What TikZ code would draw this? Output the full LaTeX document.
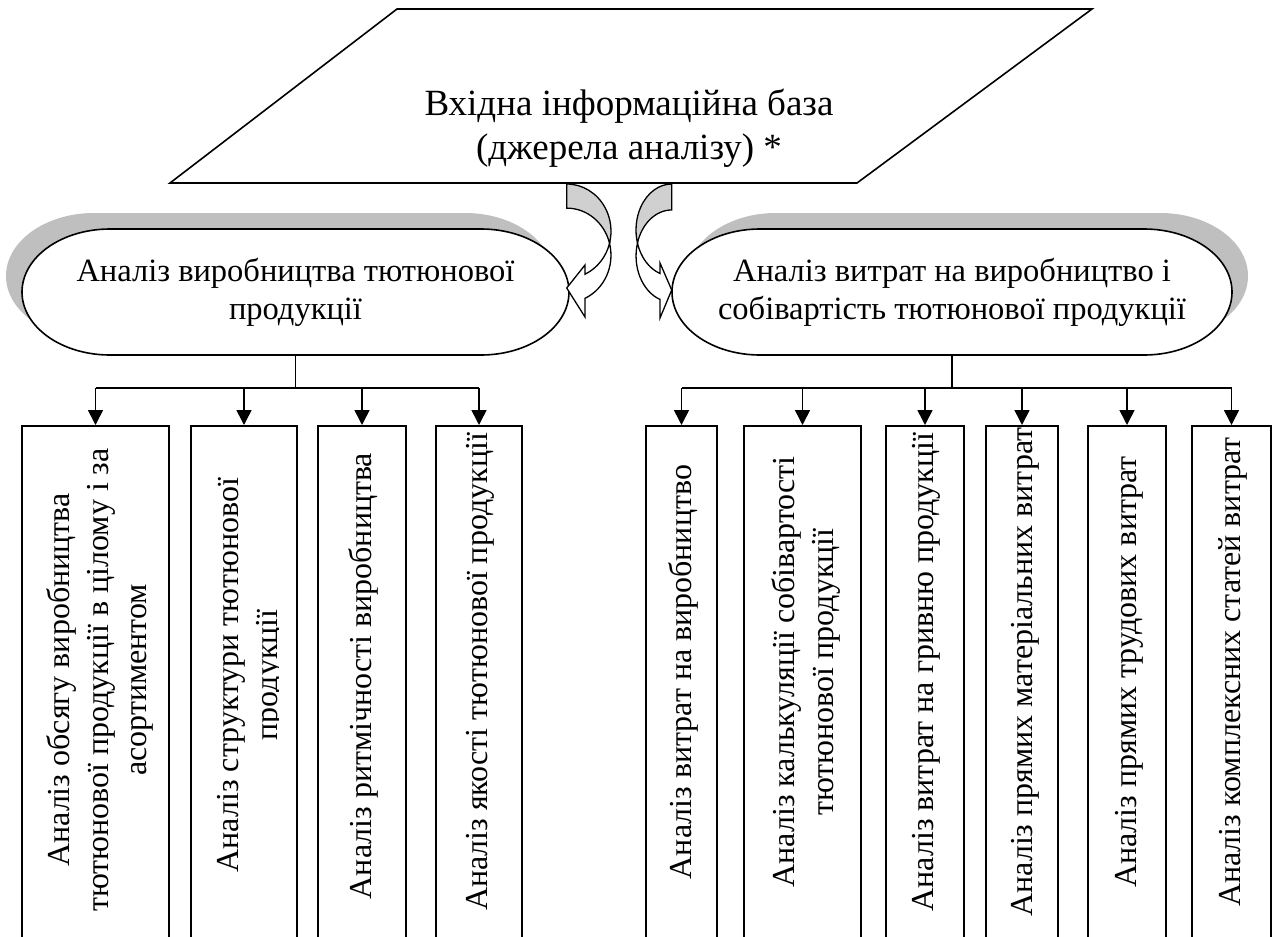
\documentclass[tikz,border=0pt]{standalone}
\usepackage{fontspec}
\setmainfont{Liberation Serif}
\newfontfamily\tnr{Liberation Serif}
\usetikzlibrary{arrows.meta}
\definecolor{shadowgrey}{RGB}{191,191,191}
\definecolor{backgrey}{RGB}{208,208,208}

\begin{document}
\begin{tikzpicture}[x=1pt,y=-1pt,line join=miter,
  outline/.style={draw=black,line width=1.6pt},
  thinline/.style={draw=black,line width=1.3pt},
  feed/.style={line width=1.6pt,-{Triangle[length=15pt,width=15pt]}},
  bus/.style={line width=1.6pt},
  boxshape/.style={draw,line width=1.6pt,fill=white,minimum height=540pt,anchor=north,inner sep=0pt},
  vtext/.style={rotate=90,align=center,inner sep=0pt,font=\tnr\fontsize{32}{38.5}\selectfont},
  ovaltext/.style={align=center,inner sep=0pt,minimum width=547pt,minimum height=126pt,font=\tnr\fontsize{32.5}{38}\selectfont},
  toptext/.style={align=center,inner sep=0pt,font=\tnr\fontsize{37}{44}\selectfont}]

\clip (0,0) rectangle (1277,937);

% ---------- source block (parallelogram) ----------
\path[outline,fill=white] (170,183) -- (397,9) -- (1092,9) -- (857,183) -- cycle;
\node[toptext] (src) at (629,128) {Вхідна інформаційна база\\(джерела аналізу) *};

% ---------- left terminator with shadow ----------
\path[fill=shadowgrey,shift={(-16,-16)}]
  (110,229) -- (481,229) arc[start angle=-90,end angle=90,x radius=88,y radius=63]
  -- (110,355) arc[start angle=90,end angle=270,x radius=88,y radius=63] -- cycle;
\path[outline,fill=white]
  (110,229) -- (481,229) arc[start angle=-90,end angle=90,x radius=88,y radius=63]
  -- (110,355) arc[start angle=90,end angle=270,x radius=88,y radius=63] -- cycle;
\node[ovaltext] (ovL) at (295.5,292) {Аналіз виробництва тютюнової\\продукції};

% ---------- right terminator with shadow ----------
\path[fill=shadowgrey,shift={(16,-16)}]
  (760,229) -- (1144,229) arc[start angle=-90,end angle=90,x radius=88,y radius=63]
  -- (760,355) arc[start angle=90,end angle=270,x radius=88,y radius=63] -- cycle;
\path[outline,fill=white]
  (760,229) -- (1144,229) arc[start angle=-90,end angle=90,x radius=88,y radius=63]
  -- (760,355) arc[start angle=90,end angle=270,x radius=88,y radius=63] -- cycle;
\node[ovaltext,minimum width=560pt] (ovR) at (952,292) {Аналіз витрат на виробництво і\\собівартість тютюнової продукції};

% ---------- curved arrow to the left block ----------
\path[thinline,fill=backgrey]
  (566.7,184) arc[start angle=-90,end angle=14.8,x radius=44.3,y radius=47.2]
  arc[start angle=-14.8,end angle=-90,x radius=44.3,y radius=47.2] -- cycle;
\path[thinline,fill=white]
  (609.5,243.3) arc[start angle=-14.8,end angle=65.6,x radius=44.3,y radius=47.2]
  -- (585,317) -- (566.7,288) -- (585,265) -- (585,274.2)
  arc[start angle=65.6,end angle=14.8,x radius=44.3,y radius=47.2] -- cycle;

% ---------- curved arrow to the right block ----------
\path[thinline,fill=backgrey]
  (671.7,184) arc[start angle=270,end angle=163.6,x radius=35.7,y radius=46]
  arc[start angle=196.4,end angle=270,x radius=35.7,y radius=46] -- cycle;
\path[thinline,fill=white]
  (637.5,243) arc[start angle=196.4,end angle=109.1,x radius=35.7,y radius=46]
  -- (660,318) -- (671.7,290) -- (660,263) -- (660,273.5)
  arc[start angle=109.1,end angle=163.6,x radius=35.7,y radius=46] -- cycle;

% ---------- lower boxes ----------
\node[boxshape,minimum width=147pt] (b1) at (95.5,425) {};
\node[boxshape,minimum width=106pt] (b2) at (244,425) {};
\node[boxshape,minimum width=88pt]  (b3) at (362,425) {};
\node[boxshape,minimum width=86pt]  (b4) at (479,425) {};
\node[boxshape,minimum width=71pt]  (b5) at (681.5,425) {};
\node[boxshape,minimum width=117pt] (b6) at (802.5,425) {};
\node[boxshape,minimum width=78pt]  (b7) at (925,425) {};
\node[boxshape,minimum width=72pt]  (b8) at (1022,425) {};
\node[boxshape,minimum width=78pt]  (b9) at (1127,425) {};
\node[boxshape,minimum width=79pt]  (b10) at (1231.5,425) {};

\node[vtext] (t1) at (100,680) {Аналіз обсягу виробництва\\тютюнової продукції в цілому і за\\асортиментом};
\begin{scope}
  % the second line runs past the text area and is cut off
  \clip (191,425) rectangle (278,937);
  \node[vtext] (t2) at (251,675) {Аналіз структури тютюнової\\продукції};
\end{scope}
\node[vtext] (t3) at (363,676) {Аналіз ритмічності виробництва};
\node[vtext] (t4) at (480,672) {Аналіз якості тютюнової продукції};
\node[vtext] (t5) at (683,672) {Аналіз витрат на виробництво};
\node[vtext] (t6) at (806,672) {Аналіз калькуляції собівартості\\тютюнової продукції};
\node[vtext] (t7) at (926,672) {Аналіз витрат на гривню продукції};
\node[vtext] (t8) at (1025,672) {Аналіз прямих матеріальних витрат};
\node[vtext] (t9) at (1129,672) {Аналіз прямих трудових витрат};
\node[vtext] (t10) at (1233,672) {Аналіз комплексних статей витрат};

% ---------- connectors ----------
\coordinate (jy) at (0,388);
\draw[bus] (ovL.south) -- (ovL.south |- jy);
\draw[bus] (b1.north |- jy) -- (b4.north |- jy);
\foreach \b in {b1,b2,b3,b4}{\draw[feed] (\b.north |- jy) -- (\b.north);}
\draw[bus] (ovR.south) -- (ovR.south |- jy);
\draw[bus] (b5.north |- jy) -- (b10.north |- jy);
\foreach \b in {b5,b6,b7,b8,b9,b10}{\draw[feed] (\b.north |- jy) -- (\b.north);}

\end{tikzpicture}
\end{document}
